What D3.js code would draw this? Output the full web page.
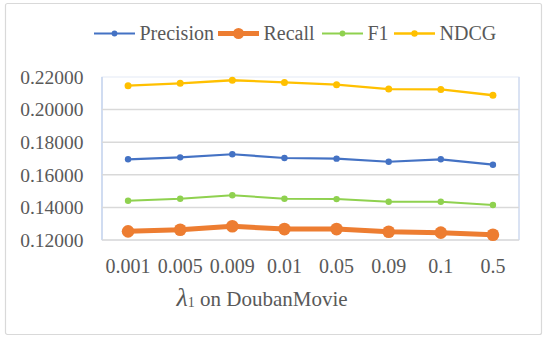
<!DOCTYPE html>
<html>
<head>
<meta charset="utf-8">
<script src="https://cdn.jsdelivr.net/npm/d3@7"></script>
<style>
body{margin:0;background:#fff;}
text{font-family:"Liberation Serif","Times New Roman",serif;fill:#595959;}
</style>
</head>
<body>
<div class="box"></div>
<script>
const lambdas=['0.001','0.005','0.009','0.01','0.05','0.09','0.1','0.5'];
const precision=[0.1695,0.1707,0.1726,0.1703,0.1699,0.1680,0.1695,0.1662];
const recall=[0.1253,0.1263,0.1284,0.1267,0.1267,0.1251,0.1245,0.1232];
const f1=[0.1441,0.1453,0.1475,0.1453,0.1451,0.1435,0.1435,0.1415];
const ndcg=[0.2147,0.2161,0.2180,0.2167,0.2153,0.2126,0.2124,0.2088];
const yTicks=[0.12,0.14,0.16,0.18,0.20,0.22];

const series=[
    {nom:'Precision',vals:precision,couleur:'#4472C4',w:2.2,r:3.2,lr:2.9},
    {nom:'Recall',vals:recall,couleur:'#ED7D31',w:5,r:6.3,lr:5.5},
    {nom:'F1',vals:f1,couleur:'#8FD14F',w:2,r:3.2,lr:2.9},
    {nom:'NDCG',vals:ndcg,couleur:'#FFC000',w:2.3,r:3.5,lr:3.2}
];

const dims={width:550,height:340,left:102,right:519,top:77,bottom:240};
const svg=d3.select('.box')
    .append('svg')
    .attr('width',dims.width)
    .attr('height',dims.height);

// cadre
svg.append('rect')
    .attr('x',5.5).attr('y',3.5)
    .attr('width',536).attr('height',331)
    .attr('rx',2)
    .attr('fill','#fff')
    .attr('stroke','#d9d9d9')
    .attr('stroke-width',1.2);

const x=d3.scaleBand()
    .domain(lambdas)
    .range([dims.left,dims.right]);
const y=d3.scaleLinear()
    .domain([0.12,0.22])
    .range([dims.bottom,dims.top]);

// zone du graphe, bord bleu pale
svg.append('rect')
    .attr('x',dims.left).attr('y',dims.top)
    .attr('width',dims.right-dims.left).attr('height',dims.bottom-dims.top)
    .attr('fill','none')
    .attr('stroke','#e3eaf6')
    .attr('stroke-width',1);
svg.append('line')
    .attr('x1',dims.left).attr('x2',dims.left)
    .attr('y1',dims.top).attr('y2',dims.bottom)
    .attr('stroke','#c5d4ee').attr('stroke-width',1.5);
svg.append('line')
    .attr('x1',dims.right).attr('x2',dims.right)
    .attr('y1',dims.top).attr('y2',dims.bottom)
    .attr('stroke','#d2ddf1').attr('stroke-width',1.5);

// grille
svg.append('g').selectAll('line')
    .data(yTicks.filter(t=>t<0.22))
    .enter().append('line')
    .attr('x1',dims.left).attr('x2',dims.right)
    .attr('y1',d=>y(d)).attr('y2',d=>y(d))
    .attr('stroke','#d9d9d9')
    .attr('stroke-width',1.5);

// axe y
const yAxis=d3.axisLeft(y)
    .tickValues(yTicks)
    .tickFormat(d3.format('.5f'))
    .tickSize(0)
    .tickPadding(18.5);
const gy=svg.append('g')
    .attr('transform',`translate(${dims.left},0)`)
    .call(yAxis);
gy.select('.domain').remove();
gy.selectAll('text')
    .attr('font-size',19.5)
    .attr('font-family','"Liberation Serif","Times New Roman",serif')
    .attr('fill','#595959');

// axe x
const xAxis=d3.axisBottom(x).tickSize(0).tickPadding(19);
const gx=svg.append('g')
    .attr('transform',`translate(0,${dims.bottom})`)
    .call(xAxis);
gx.select('.domain').remove();
gx.selectAll('text')
    .attr('font-size',20)
    .attr('font-family','"Liberation Serif","Times New Roman",serif')
    .attr('fill','#595959');

// titre de l'axe
const titre=svg.append('text')
    .attr('x',262).attr('y',306)
    .attr('text-anchor','middle')
    .attr('font-size',21);
titre.append('tspan')
    .attr('font-style','italic')
    .attr('font-size',26)
    .text('λ');
titre.append('tspan')
    .attr('font-size',14)
    .attr('dy',1)
    .text('1');
titre.append('tspan')
    .attr('dy',-1)
    .text(' on DoubanMovie');

// courbes
const ligne=d3.line()
    .x((d,i)=>x(lambdas[i])+x.bandwidth()/2)
    .y(d=>y(d));

const graph=svg.append('g');
series.forEach(s=>{
    graph.append('path')
        .attr('d',ligne(s.vals))
        .attr('fill','none')
        .attr('stroke',s.couleur)
        .attr('stroke-width',s.w)
        .attr('stroke-linejoin','round');
    graph.selectAll(null)
        .data(s.vals)
        .enter().append('circle')
        .attr('cx',(d,i)=>x(lambdas[i])+x.bandwidth()/2)
        .attr('cy',d=>y(d))
        .attr('r',s.r)
        .attr('fill',s.couleur);
});

// legende
const legX=[94,218,322,394];
const groupeLegend=svg.append('g').attr('class','legend');
series.forEach((s,i)=>{
    const x0=legX[i];
    const g=groupeLegend.append('g');
    g.append('line')
        .attr('x1',x0).attr('x2',x0+41)
        .attr('y1',33.5).attr('y2',33.5)
        .attr('stroke',s.couleur)
        .attr('stroke-width',s.w);
    g.append('circle')
        .attr('cx',x0+20.5).attr('cy',33.5)
        .attr('r',s.lr)
        .attr('fill',s.couleur);
    g.append('text')
        .attr('x',x0+45.5).attr('y',40)
        .attr('font-size',20)
        .text(s.nom);
});
</script>
</body>
</html>
